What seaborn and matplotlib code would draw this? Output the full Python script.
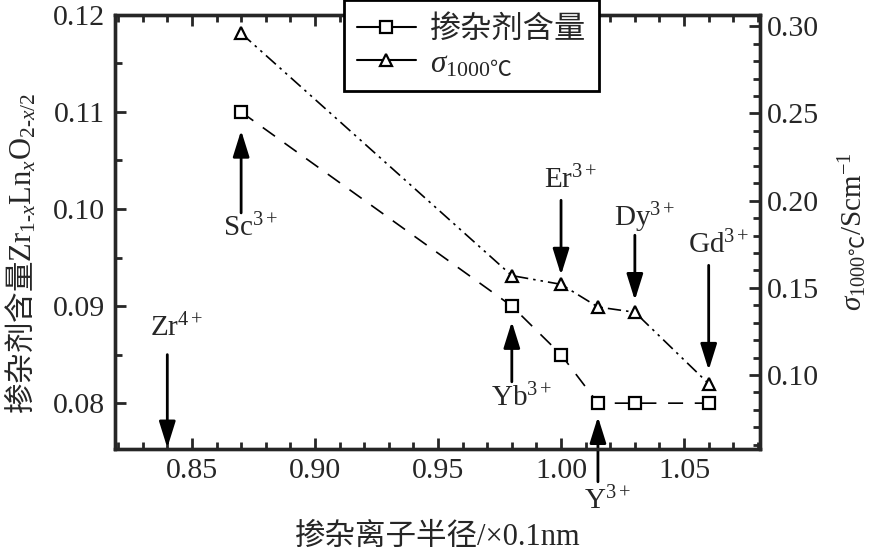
import numpy as np
import pandas as pd
import matplotlib
matplotlib.use('Agg')
import matplotlib.pyplot as plt
import seaborn as sns
from matplotlib.ticker import MultipleLocator, FormatStrFormatter
from matplotlib.lines import Line2D

# data
ion_radius = [0.87, 0.98, 1.00, 1.015, 1.03, 1.06]
dopant_content = [0.110, 0.090, 0.085, 0.080, 0.080, 0.080]
sigma_1000 = [0.296, 0.157, 0.152, 0.139, 0.136, 0.095]

ion_labels = ['Zr$^{4+}$', 'Sc$^{3+}$', 'Yb$^{3+}$', 'Er$^{3+}$', 'Y$^{3+}$', 'Dy$^{3+}$', 'Gd$^{3+}$']
ion_x = [0.84, 0.87, 0.98, 1.00, 1.015, 1.03, 1.06]

df = pd.DataFrame({'r': ion_radius, 'c': dopant_content, 's': sigma_1000})

sns.set_style('ticks')
plt.rcParams['font.family'] = ['Liberation Serif', 'Noto Sans CJK SC', 'DejaVu Sans']
plt.rcParams['mathtext.fontset'] = 'custom'
plt.rcParams['mathtext.rm'] = 'Liberation Serif'
plt.rcParams['mathtext.it'] = 'Liberation Serif:italic'
plt.rcParams['mathtext.bf'] = 'Liberation Serif:bold'
plt.rcParams['mathtext.sf'] = 'Noto Sans CJK SC'
plt.rcParams['xtick.direction'] = 'in'
plt.rcParams['ytick.direction'] = 'in'

sig = r'\sigma_{1000\mathsf{℃}}'

fig = plt.figure(figsize=(8.77, 5.52), dpi=100)
ax = fig.add_axes([0.131, 0.187, 0.736, 0.786])
ax2 = ax.twinx()

sns.lineplot(data=df, x='r', y='c', ax=ax, color='k', lw=1.2, linestyle=(0, (9, 7)),
             marker='s', markersize=9, markerfacecolor='white', markeredgecolor='k',
             markeredgewidth=1.6)
sns.lineplot(data=df, x='r', y='s', ax=ax2, color='k', lw=1.2,
             linestyle=(0, (8, 3, 1.5, 3, 1.5, 3)),
             marker='^', markersize=9, markerfacecolor='white', markeredgecolor='k',
             markeredgewidth=1.6)

ax.set_xlim(0.8187, 1.081)
ax.set_ylim(0.0753, 0.120)
ax2.set_ylim(0.0577, 0.3065)

ax.xaxis.set_major_locator(MultipleLocator(0.05))
ax.xaxis.set_minor_locator(MultipleLocator(0.01))
ax.yaxis.set_major_locator(MultipleLocator(0.01))
ax.yaxis.set_minor_locator(MultipleLocator(0.005))
ax2.yaxis.set_major_locator(MultipleLocator(0.05))
ax2.yaxis.set_minor_locator(MultipleLocator(0.01))
ax.xaxis.set_major_formatter(FormatStrFormatter('%.2f'))
ax.yaxis.set_major_formatter(FormatStrFormatter('%.2f'))
ax2.yaxis.set_major_formatter(FormatStrFormatter('%.2f'))

ax.tick_params(which='both', top=True, right=False, width=2, labelsize=21.5, pad=7)
ax.tick_params(which='major', length=8)
ax.tick_params(which='minor', length=5)
ax2.tick_params(which='both', width=2, labelsize=21.5, pad=5)
ax2.tick_params(which='major', length=8)
ax2.tick_params(which='minor', length=5)
for a in (ax, ax2):
    for sp in a.spines.values():
        sp.set_linewidth(2.4)
        sp.set_visible(True)

ax.set_xlabel('掺杂离子半径/×0.1nm', fontsize=22, labelpad=28)
ax.set_ylabel(r'掺杂剂含量$\mathrm{Zr}_{1\text{-}x}\mathrm{Ln}_{x}\mathrm{O}_{2\text{-}x/2}$',
              fontsize=22, labelpad=2, family=['Noto Sans CJK SC'])
ax.yaxis.set_label_coords(-0.118, 0.45)
ax2.set_ylabel('$' + sig + '$/Scm$^{-1}$', fontsize=21, labelpad=12)

# arrows: (label index, text y, tail y, tip y), y in left-axis units
arrows = [
    (0, 0.0877, 0.0850, 0.0754),
    (1, 0.0980, 0.0996, 0.1081),
    (2, 0.0805, 0.0822, 0.0884),
    (3, 0.1030, 0.1009, 0.0932),
    (4, 0.0699, 0.0719, 0.0786),
    (5, 0.0991, 0.0973, 0.0906),
    (6, 0.0963, 0.0942, 0.0834),
]
for i, ty, y0, y1 in arrows:
    x = ion_x[i]
    ax.annotate('', xy=(x, y1), xytext=(x, y0), annotation_clip=False,
                arrowprops=dict(arrowstyle='-|>,head_length=0.8,head_width=0.25',
                                mutation_scale=20, lw=2, color='k',
                                shrinkA=0, shrinkB=0))
    ax.text(x + 0.004, ty, ion_labels[i], fontsize=21, ha='center', va='center',
            clip_on=False)

handles = [
    Line2D([], [], color='k', lw=1.5, marker='s', markersize=8,
           markerfacecolor='white', markeredgewidth=1.6),
    Line2D([], [], color='k', lw=1.5, marker='^', markersize=8,
           markerfacecolor='white', markeredgewidth=1.6),
]
leg = fig.legend(handles, ['掺杂剂含量', '$' + sig + '$'], loc='upper left',
                 bbox_to_anchor=(344 / 877, 1.0), bbox_transform=fig.transFigure,
                 borderaxespad=0, fancybox=False, edgecolor='k', framealpha=1,
                 fontsize=22.5, handlelength=1.9, handletextpad=0.45,
                 borderpad=0.4, labelspacing=0.15)
leg.get_frame().set_linewidth(2)
leg.get_texts()[0].set_fontfamily(['Noto Sans CJK SC'])

fig.savefig('out.png', dpi=100)
